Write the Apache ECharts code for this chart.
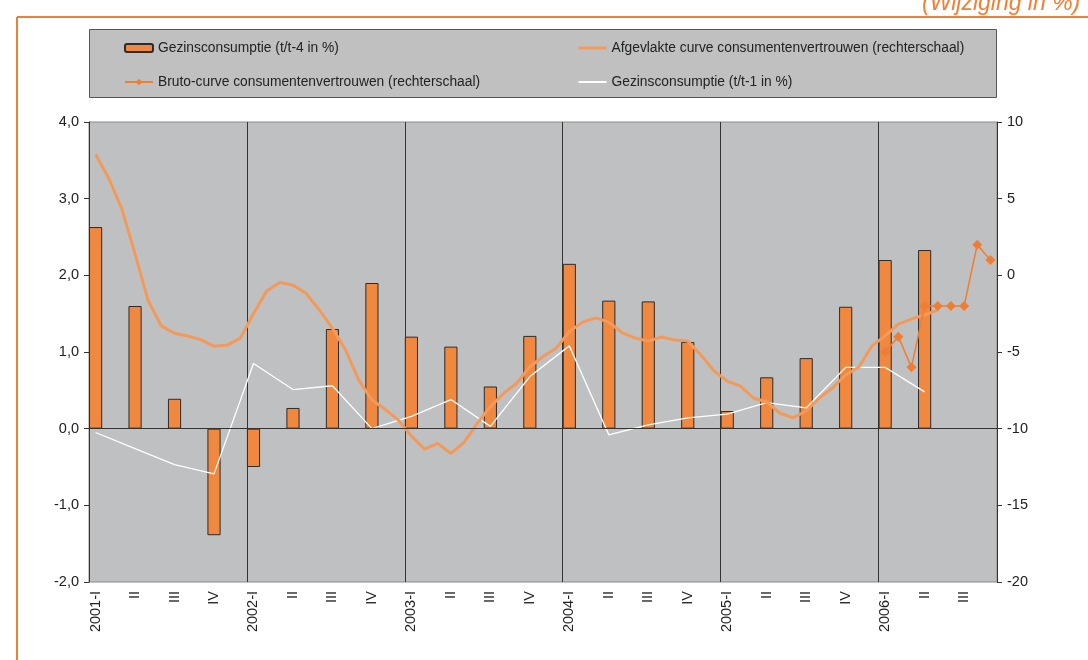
<!DOCTYPE html>
<html>
<head>
<meta charset="utf-8">
<script src="https://cdn.jsdelivr.net/npm/echarts@6/dist/echarts.min.js"></script>
<style>
  html, body { margin: 0; padding: 0; background: #fff; }
  #chart { width: 1088px; height: 660px; }
</style>
</head>
<body>
<div id="chart"></div>
<script>
// kwartaallabels op de x-as
var quarterLabels = ['2001-I','II','III','IV','2002-I','II','III','IV','2003-I','II','III','IV',
  '2004-I','II','III','IV','2005-I','II','III','IV','2006-I','II','III'];

// Gezinsconsumptie t/t-4 (linkerschaal), per kwartaal
var consT4 = [2.63, 1.6, 0.39, -1.39, -0.5, 0.27, 1.3, 1.9, 1.2, 1.07, 0.55, 1.21,
  2.15, 1.67, 1.66, 1.13, 0.23, 0.67, 0.92, 1.59, 2.2, 2.33, null];

// Gezinsconsumptie t/t-1 (linkerschaal), per kwartaal
var consT1 = [-0.05, -0.26, -0.47, -0.59, 0.85, 0.51, 0.56, 0.0, 0.16, 0.38, 0.03, 0.68,
  1.08, -0.08, 0.05, 0.14, 0.19, 0.34, 0.27, 0.8, 0.8, 0.48, null];

// afgevlakte curve consumentenvertrouwen (rechterschaal), per maand vanaf jan 2001
var smoothed = [7.9, 6.33, 4.32, 1.4, -1.66, -3.3, -3.78, -3.96, -4.19, -4.63, -4.55, -4.1,
  -2.5, -1.02, -0.46, -0.64, -1.17, -2.26, -3.46, -4.87, -6.83, -8.13, -8.74, -9.43,
  -10.48, -11.33, -10.96, -11.62, -10.89, -9.65, -8.57, -7.7, -7.04, -5.96, -5.3, -4.76,
  -3.67, -3.05, -2.77, -3.05, -3.73, -4.09, -4.29, -4.02, -4.22, -4.29, -5.2, -6.24,
  -6.9, -7.22, -8.0, -8.26, -8.98, -9.3, -8.85, -8.0, -7.35, -6.5, -5.98, -4.6,
  -3.95, -3.18, -2.85, -2.59, -2.26];

// bruto curve consumentenvertrouwen (rechterschaal), per maand vanaf jan 2006
var brutoStart = 60;
var bruto = [-5, -4, -6, -2, -2, -2, -2, 2, 1];

var nMonths = quarterLabels.length * 3;
var months = [];
var barData = [], t1Data = [], smoothData = [], brutoData = [];
for (var i = 0; i < nMonths; i++) {
  var q = Math.floor(i / 3);
  months.push(q + '-' + (i % 3));
  var first = i % 3 === 0;
  barData.push(first && consT4[q] != null ? consT4[q] : '-');
  t1Data.push(first && consT1[q] != null ? consT1[q] : '-');
  smoothData.push(i < smoothed.length ? smoothed[i] : '-');
  var b = i - brutoStart;
  brutoData.push(b >= 0 && b < bruto.length ? bruto[b] : '-');
}

var font = 'Liberation Sans, Arial, sans-serif';
var names = ['Gezinsconsumptie (t/t-4 in %)',
  'Afgevlakte curve consumentenvertrouwen (rechterschaal)',
  'Bruto-curve consumentenvertrouwen (rechterschaal)',
  'Gezinsconsumptie (t/t-1 in %)'];

var chart = echarts.init(document.getElementById('chart'));
var option = {
  animation: false,
  backgroundColor: '#fff',
  textStyle: { fontFamily: font },
  graphic: [
    { type: 'line', shape: { x1: 17, y1: 17, x2: 1088, y2: 17 }, style: { stroke: '#F07F35', lineWidth: 2 } },
    { type: 'line', shape: { x1: 17, y1: 17, x2: 17, y2: 660 }, style: { stroke: '#F07F35', lineWidth: 2 } },
    { type: 'text', x: 922, y: 15, style: { text: '(Wijziging in %)', fill: '#F07F35', font: 'italic 23px ' + font, verticalAlign: 'bottom' } },
    { type: 'rect', z: 0, shape: { x: 89.5, y: 29.5, width: 907, height: 68 }, style: { fill: '#C0C0C0', stroke: '#555', lineWidth: 1 } }
  ],
  legend: [
    {
      left: 124, top: 41, orient: 'vertical', padding: 0, itemGap: 20, itemWidth: 28, itemHeight: 8,
      data: [names[0], names[2]],
      textStyle: { fontSize: 13.8, color: '#222', fontFamily: font }
    },
    {
      left: 577, top: 41, orient: 'vertical', padding: 0, itemGap: 20, itemWidth: 28, itemHeight: 8,
      data: [
        { name: names[1], itemStyle: { opacity: 0 }, lineStyle: { width: 3 } },
        { name: names[3], itemStyle: { opacity: 0 }, lineStyle: { width: 2 } }
      ],
      textStyle: { fontSize: 13.8, color: '#222', fontFamily: font }
    }
  ],
  grid: {
    left: 89, right: 91, top: 122, bottom: 78,
    show: true, backgroundColor: '#BFC0C2', borderColor: '#8a8a8a', borderWidth: 1
  },
  xAxis: {
    type: 'category',
    data: months,
    boundaryGap: true,
    axisLine: { show: false },
    axisTick: { show: false },
    axisLabel: {
      interval: 2, rotate: 90, margin: 9, fontSize: 14.5, color: '#222', fontFamily: font,
      formatter: function (v, idx) { return quarterLabels[Math.floor(idx / 3)]; }
    },
    splitLine: {
      show: true,
      interval: function (idx) { return idx > 0 && idx % 12 === 0; },
      lineStyle: { color: '#333', width: 1 }
    }
  },
  yAxis: [
    {
      type: 'value', min: -2, max: 4, interval: 1,
      axisLine: { show: true, lineStyle: { color: '#333' } },
      axisTick: { show: true, length: 5, lineStyle: { color: '#333' } },
      splitLine: { show: false },
      axisLabel: {
        margin: 10, fontSize: 14.5, color: '#222', fontFamily: font,
        formatter: function (v) { return v.toFixed(1).replace('.', ','); }
      }
    },
    {
      type: 'value', min: -20, max: 10, interval: 5,
      axisLine: { show: true, lineStyle: { color: '#333' } },
      axisTick: { show: true, length: 5, lineStyle: { color: '#333' } },
      splitLine: { show: false },
      axisLabel: { margin: 10, fontSize: 14.5, color: '#222', fontFamily: font }
    }
  ],
  series: [
    {
      name: names[0], type: 'bar', yAxisIndex: 0, data: barData,
      barCategoryGap: '0%',
      itemStyle: { color: '#F0883F', borderColor: '#2b2b2b', borderWidth: 1 },
      markLine: {
        silent: true, symbol: 'none', label: { show: false },
        lineStyle: { color: '#333', width: 1, type: 'solid' },
        data: [{ yAxis: 0 }]
      }
    },
    {
      name: names[3], type: 'line', yAxisIndex: 0, data: t1Data,
      connectNulls: true, symbol: 'none',
      lineStyle: { color: '#ffffff', width: 1.3 },
      itemStyle: { color: '#ffffff' }
    },
    {
      name: names[1], type: 'line', yAxisIndex: 1, data: smoothData,
      symbol: 'none',
      lineStyle: { color: '#F39A5A', width: 3 },
      itemStyle: { color: '#F39A5A' }
    },
    {
      name: names[2], type: 'line', yAxisIndex: 1, data: brutoData,
      symbol: 'diamond', symbolSize: 10, showAllSymbol: true,
      lineStyle: { color: '#EF7E33', width: 1.5 },
      itemStyle: { color: '#EF7E33' }
    }
  ]
};
chart.setOption(option);
</script>
</body>
</html>
